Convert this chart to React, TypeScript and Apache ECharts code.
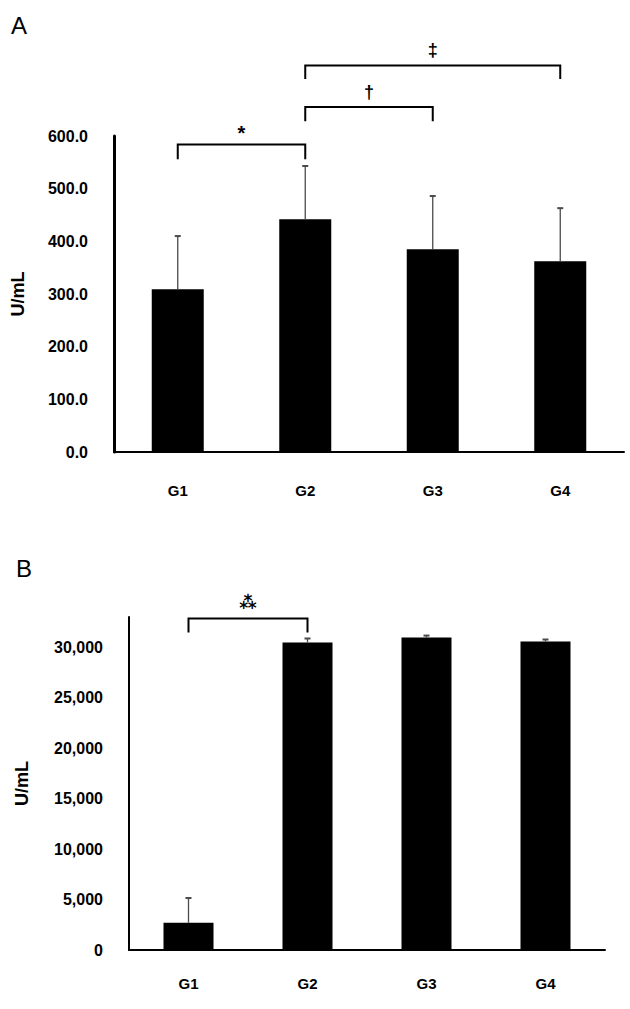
import React, { useEffect, useRef } from "react";
import * as echarts from "echarts";

const categories = ["G1", "G2", "G3", "G4"];

// Panel A (U/mL)
const meansA = [309, 442, 385, 362];
const upperA = [410, 543, 486, 463];
// brackets: [fromIndex, toIndex, topValue, legValue, label]
const bracketsA: [number, number, number, number, string][] = [
  [0, 1, 584, 556, "*"],
  [1, 2, 655, 628, "†"],
  [1, 3, 734, 708, "‡"],
];

// Panel B (U/mL)
const meansB = [2700, 30470, 30970, 30570];
const upperB = [5150, 30870, 31160, 30770];
const bracketsB: [number, number, number, number, string][] = [
  [0, 1, 32840, 31460, "⁂"],
];

const FONT = "Arial, 'Liberation Sans', 'DejaVu Sans', sans-serif";

function errorRender(params: any, api: any) {
  const x = api.value(0);
  const base = api.coord([x, api.value(1)]);
  const top = api.coord([x, api.value(2)]);
  const cap = 3;
  const style = { stroke: "#4a4a4a", lineWidth: 1.3 };
  return {
    type: "group",
    children: [
      { type: "line", shape: { x1: base[0], y1: base[1], x2: top[0], y2: top[1] }, style },
      { type: "line", shape: { x1: top[0] - cap, y1: top[1], x2: top[0] + cap, y2: top[1] }, style: { stroke: "#4a4a4a", lineWidth: 2 } },
    ],
  };
}

function bracketRender(params: any, api: any) {
  const a = api.value(0);
  const b = api.value(1);
  const pTop1 = api.coord([a, api.value(2)]);
  const pTop2 = api.coord([b, api.value(2)]);
  const pLeg1 = api.coord([a, api.value(3)]);
  const label = String(api.value(4));
  const style = { stroke: "#000", lineWidth: 2, fill: "none" };
  const midX = (pTop1[0] + pTop2[0]) / 2;
  const y = pTop1[1];
  const isStar = label === "*";
  const isAsterism = label === "⁂";
  const children: any[] = [
    {
      type: "polyline",
      shape: { points: [[pTop1[0], pLeg1[1]], [pTop1[0], y], [pTop2[0], y], [pTop2[0], pLeg1[1]]] },
      style,
    },
    {
      type: "text",
      style: {
        text: label,
        x: midX,
        y: isStar ? y - 11 : isAsterism ? y - 16 : y - 15,
        align: "center",
        verticalAlign: "middle",
        fontSize: isStar ? 20 : isAsterism ? 17 : 18,
        fontWeight: "bold",
        fontFamily: FONT,
        fill: "#000",
      },
    },
  ];
  return { type: "group", children };
}

export default function App() {
  const ref = useRef<HTMLDivElement>(null);
  useEffect(() => {
    if (!ref.current) return;
    const chart = echarts.init(ref.current, undefined, { renderer: "svg" });
    const axisLabelCommon = { color: "#000", fontSize: 16, fontFamily: FONT, fontWeight: "bold" };
    const option: any = {
      animation: false,
      backgroundColor: "#fff",
      textStyle: { fontFamily: FONT },
      title: [
        { text: "A", left: 6, top: 8, textStyle: { fontSize: 24, fontWeight: "normal", color: "#000", fontFamily: FONT } },
        { text: "B", left: 11, top: 551, textStyle: { fontSize: 24, fontWeight: "normal", color: "#000", fontFamily: FONT } },
      ],
      grid: [
        { left: 114, top: 136, width: 510, height: 316 },
        { left: 129, top: 617, width: 476, height: 333 },
      ],
      xAxis: [
        {
          type: "category", gridIndex: 0, data: categories,
          axisLine: { lineStyle: { color: "#000", width: 2 } },
          axisTick: { show: false },
          axisLabel: { ...axisLabelCommon, fontSize: 15, margin: 31 },
        },
        {
          type: "category", gridIndex: 1, data: categories,
          axisLine: { lineStyle: { color: "#000", width: 2 } },
          axisTick: { show: false },
          axisLabel: { ...axisLabelCommon, fontSize: 15, margin: 26 },
        },
      ],
      yAxis: [
        {
          type: "value", gridIndex: 0, min: 0, max: 600, interval: 100,
          name: "U/mL", nameLocation: "middle", nameGap: 87,
          nameTextStyle: { color: "#000", fontSize: 18, fontFamily: FONT, fontWeight: "bold" },
          axisLine: { show: true, lineStyle: { color: "#000", width: 3 } },
          axisTick: { show: false },
          splitLine: { show: false },
          axisLabel: { ...axisLabelCommon, margin: 26, formatter: (v: number) => v.toFixed(1) },
        },
        {
          type: "value", gridIndex: 1, min: 0, max: 33000, interval: 5000,
          name: "U/mL", nameLocation: "middle", nameGap: 98,
          nameTextStyle: { color: "#000", fontSize: 18, fontFamily: FONT, fontWeight: "bold" },
          axisLine: { show: true, lineStyle: { color: "#000", width: 2 } },
          axisTick: { show: false },
          splitLine: { show: false },
          axisLabel: { ...axisLabelCommon, margin: 26, showMaxLabel: false, formatter: (v: number) => v.toLocaleString("en-US") },
        },
      ],
      series: [
        {
          type: "bar", xAxisIndex: 0, yAxisIndex: 0, data: meansA, barWidth: 52,
          itemStyle: { color: "#000" },
        },
        {
          type: "custom", xAxisIndex: 0, yAxisIndex: 0, renderItem: errorRender, clip: false, z: 5,
          data: categories.map((_, i) => [i, meansA[i], upperA[i]]),
        },
        {
          type: "custom", xAxisIndex: 0, yAxisIndex: 0, renderItem: bracketRender, clip: false, z: 6,
          data: bracketsA.map((b) => [b[0], b[1], b[2], b[3], b[4]]),
        },
        {
          type: "bar", xAxisIndex: 1, yAxisIndex: 1, data: meansB, barWidth: 50,
          itemStyle: { color: "#000" },
        },
        {
          type: "custom", xAxisIndex: 1, yAxisIndex: 1, renderItem: errorRender, clip: false, z: 5,
          data: categories.map((_, i) => [i, meansB[i], upperB[i]]),
        },
        {
          type: "custom", xAxisIndex: 1, yAxisIndex: 1, renderItem: bracketRender, clip: false, z: 6,
          data: bracketsB.map((b) => [b[0], b[1], b[2], b[3], b[4]]),
        },
      ],
    };
    chart.setOption(option);
    return () => chart.dispose();
  }, []);
  return (
    <div
      ref={ref}
      style={{ position: "fixed", left: 0, top: 0, width: 630, height: 1009, background: "#fff" }}
    />
  );
}
